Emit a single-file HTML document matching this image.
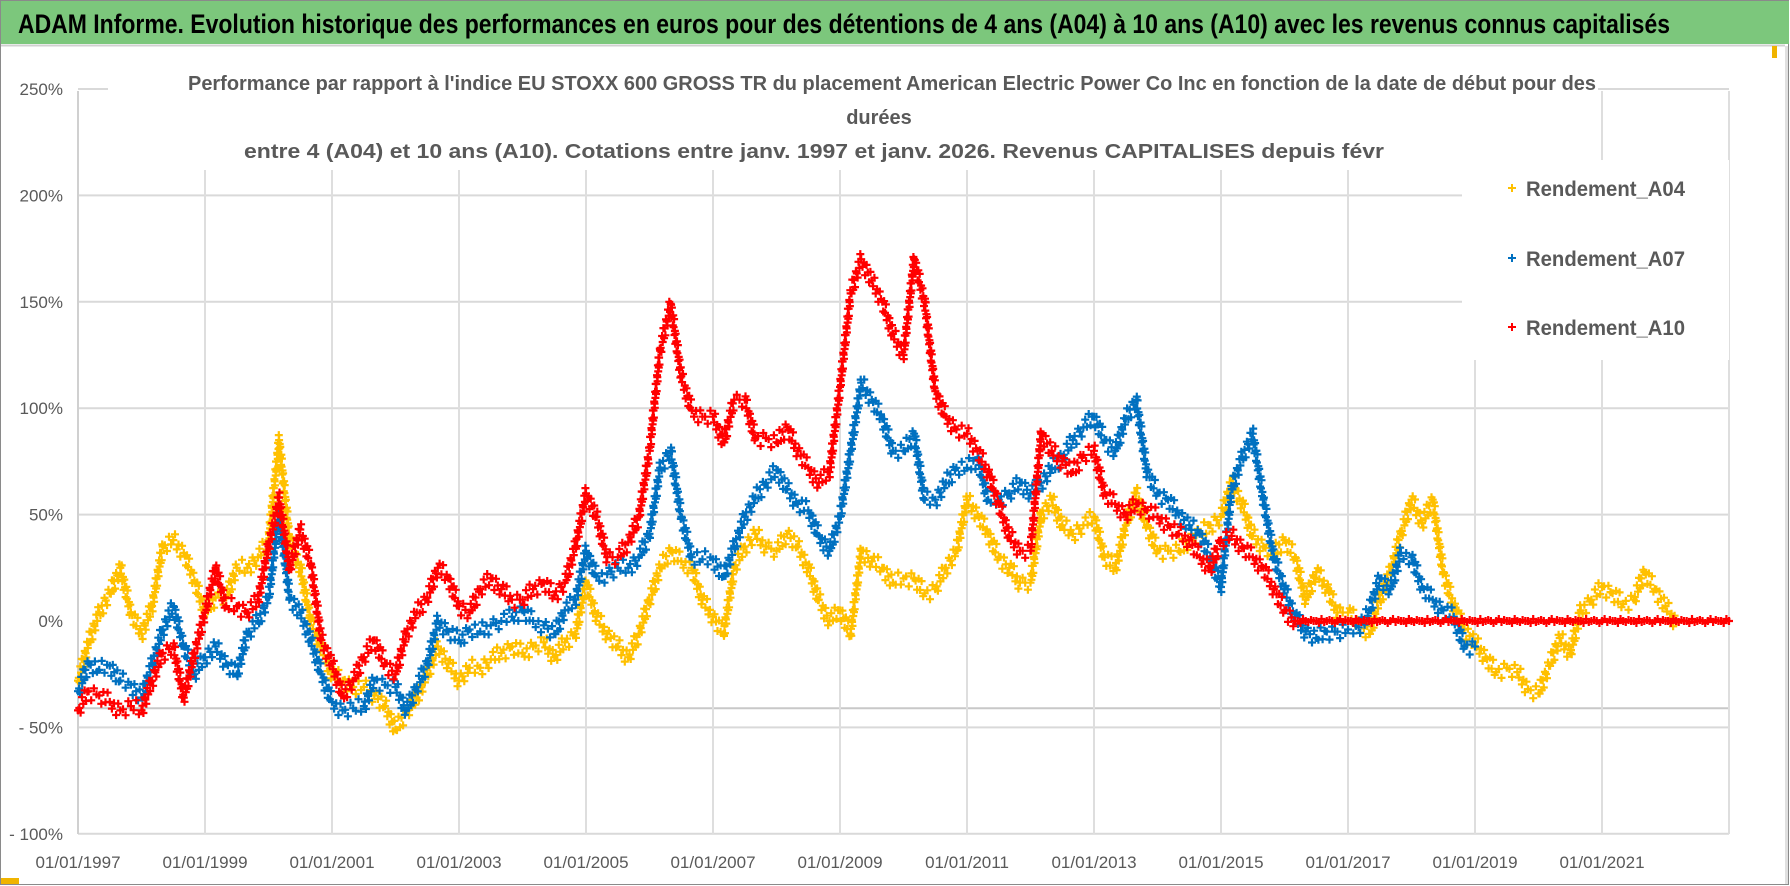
<!DOCTYPE html>
<html><head><meta charset="utf-8"><style>
html,body{margin:0;padding:0;background:#fff;}
svg{display:block;font-family:"Liberation Sans",sans-serif;}
</style></head><body>
<svg id="chart" width="1790" height="886" viewBox="0 0 1790 886" xmlns="http://www.w3.org/2000/svg">
<rect x="0" y="0" width="1790" height="886" fill="#fff"/>
<rect x="0.5" y="0.5" width="1788" height="884" fill="none" stroke="#8a8a8a"/>
<rect x="1" y="1" width="1788" height="43" fill="#7cc77c"/>
<text x="18" y="33" font-size="27" font-weight="bold" fill="#000" textLength="1652" lengthAdjust="spacingAndGlyphs">ADAM Informe. Evolution historique des performances en euros pour des détentions de 4 ans (A04) à 10 ans (A10) avec les revenus connus capitalisés</text>
<line x1="1" y1="45.5" x2="1785" y2="45.5" stroke="#d0d0d0" stroke-width="2"/>
<rect x="1" y="878" width="18" height="6" fill="#f0b400"/>
<rect x="1772" y="46" width="5" height="12" fill="#f0b400"/>
<rect x="1785" y="46" width="3" height="838" fill="#e0e0e0"/>
<g id="grid"></g>
<g id="axes"></g>
<rect x="108" y="60" width="1490" height="110" fill="#fff"/>
<text x="188" y="90" font-size="20" font-weight="bold" fill="#595959" textLength="1408" lengthAdjust="spacingAndGlyphs">Performance par rapport à l'indice EU STOXX 600 GROSS TR  du placement American Electric Power Co Inc en fonction de la date de début pour des</text>
<text x="879" y="124" font-size="20" font-weight="bold" fill="#595959" text-anchor="middle">durées</text>
<text x="244" y="158" font-size="20" font-weight="bold" fill="#595959" textLength="1140" lengthAdjust="spacingAndGlyphs">entre 4 (A04) et 10 ans (A10). Cotations entre janv. 1997 et janv. 2026. Revenus CAPITALISES depuis févr</text>
<g id="series"></g>
<rect x="1462" y="160" width="267" height="200" fill="#fff"/>
<g id="legend"></g>
</svg>
<script>
const startYear = 1997;
const pointsPerYear = 6;
const yTicks = [250, 200, 150, 100, 50, 0, -50, -100];
const yTickLabels = ["250%", "200%", "150%", "100%", "50%", "0%", "- 50%", "- 100%"];
const xTickYears = [1997, 1999, 2001, 2003, 2005, 2007, 2009, 2011, 2013, 2015, 2017, 2019, 2021];
const xTickLabels = ["01/01/1997","01/01/1999","01/01/2001","01/01/2003","01/01/2005","01/01/2007","01/01/2009","01/01/2011","01/01/2013","01/01/2015","01/01/2017","01/01/2019","01/01/2021"];
const seriesNames = ["Rendement_A04", "Rendement_A07", "Rendement_A10"];
const a04 = [
-28,-10,4,13,25,4, -6,7,35,38,32,19, 4,11,11,25,25,30, 38,85,38,25,0,-12,
-25,-28,-31,-31,-35,-40, -51,-43,-36,-25,-12,-20, -28,-22,-22,-18,-15,-12, -15,-12,-10,-17,-10,-6,
18,2,-6,-12,-17,-6, 10,25,33,28,25,10, 2,-6,25,35,41,35, 33,41,35,25,10,0,
5,-6,33,28,25,18, 20,20,13,15,25,33, 57,50,41,30,25,18, 18,50,57,45,41,45,
49,30,25,45,60,45, 33,33,33,38,41,45, 49,65,55,40,35,32, 38,30,10,23,16,4,
4,-1,-6,10,23,41, 57,46,57,23,7,-4, -10,-17,-24,-22,-24,-32, -34,-21,-8,-15,5,10,
16,13,8,10,23,15, 7,-1];
const a07 = [
-33,-20,-23,-21,-28,-30, -36,-20,-4,7,-12,-25, -17,-12,-20,-25,-6,0, 11,51,11,4,-9,-25,
-38,-42,-41,-40,-28,-30, -31,-42,-31,-20,0,-5, -9,-4,-5,-2,0,2, 5,0,-2,-6,5,10,
33,21,22,25,25,30, 41,72,80,49,30,29, 29,21,35,49,58,65, 71,62,55,52,40,33,
49,80,112,104,95,80, 80,88,57,57,65,72, 72,76,57,57,60,65, 60,65,72,77,85,91,
96,85,80,95,104,70, 60,57,50,45,41,30, 16,62,77,88,57,30, 15,2,-5,-8,-5,-5,
-4,-3,5,20,15,32, 30,16,10,5,2,-12, -12];
const a10 = [
-42,-33,-35,-38,-42,-40, -42,-28,-15,-12,-36,-15, 4,25,7,7,4,10, 35,58,25,43,27,-9,
-20,-35,-28,-17,-9,-20, -25,-6,4,11,25,20, 7,4,15,20,15,10, 10,15,18,12,18,35,
60,49,30,30,37,49, 80,127,149,115,99,96, 96,84,104,104,86,86, 84,91,80,72,65,70,
110,154,170,160,150,135, 125,170,150,108,96,90, 88,80,70,55,40,33, 33,88,80,75,70,78,
80,60,55,50,55,52, 49,45,41,38,30,25, 38,40,35,30,25,15, 5,0,0,0,0,0,
0,0,0,0,0,0, 0,0,0,0,0,0, 0,0,0,0,0,0, 0,0,0,0,0,0,
0,0,0,0,0,0, 0,0,0,0,0,0, 0];
const baselineValue = -41;

const NS = "http://www.w3.org/2000/svg";
const plotLeft = 78, plotRight = 1729, plotTop = 91, plotBottom = 834;
function xScale(yr){ return plotLeft + (yr - 1997) * (plotRight - plotLeft) / 26; }
function yScale(v){ return 621 - v * 106.4 / 50; }
function mk(tag, attrs, parent){ const e = document.createElementNS(NS, tag); for (const k in attrs) e.setAttribute(k, attrs[k]); parent.appendChild(e); return e; }

const grid = document.getElementById('grid');
const axes = document.getElementById('axes');
yTicks.forEach((t, i) => {
  if (t !== 0) {
    const l = mk('line', {x1: plotLeft, x2: plotRight, y1: yScale(t), y2: yScale(t), stroke: '#d9d9d9', 'stroke-width': 2}, grid);
    
    
  }
  const tx = mk('text', {x: 63, y: yScale(t) + 6, 'font-size': 17, fill: '#595959', 'text-anchor': 'end'}, axes);
  tx.textContent = yTickLabels[i];
  
  
});
const bl = mk('line', {x1: plotLeft, x2: plotRight, y1: yScale(baselineValue), y2: yScale(baselineValue), stroke: '#c8c8c8', 'stroke-width': 2}, grid);


xTickYears.forEach((yr, i) => {
  const x = xScale(yr);
  const l = mk('line', {x1: x, x2: x, y1: plotTop, y2: plotBottom, stroke: i === 0 ? '#d0d0d0' : '#dedede', 'stroke-width': 2}, grid);
  
  
  const tx = mk('text', {x: x, y: 868, 'font-size': 17, fill: '#595959', 'text-anchor': 'middle'}, axes);
  tx.textContent = xTickLabels[i];
  
  
});
const lastGrid = mk('line', {x1: xScale(2023), x2: xScale(2023), y1: plotTop, y2: plotBottom, stroke: '#dedede', 'stroke-width': 2}, grid);



const seriesG = document.getElementById('series');
const colors = ['#ffc000', '#0070c0', '#ff0000'];
const wobble = [0, 7, -6, 3, -8, 5, -2, 8, -5];
const flatWobble = [0, 2, -2, 1, -1];
function cross(x, y){ return `M${(x-4).toFixed(1)},${y.toFixed(1)}H${(x+4).toFixed(1)}M${x.toFixed(1)},${(y-4).toFixed(1)}V${(y+4).toFixed(1)}`; }
[a04, a07, a10].forEach((arr, s) => {
  const g = mk('g', {stroke: colors[s], 'stroke-width': 2.2}, seriesG);
  
  
  let d = '';
  let n = 0;
  arr.forEach((v, i) => {
    const x0 = xScale(startYear + i / pointsPerYear), y0 = yScale(v);
    d += cross(x0, y0);
    if (i + 1 < arr.length) {
      const x1 = xScale(startYear + (i + 1) / pointsPerYear), y1 = yScale(arr[i + 1]);
      const len = Math.hypot(x1 - x0, y1 - y0);
      const steps = Math.max(2, Math.ceil(len / 3));
      const flat = v === 0 && arr[i + 1] === 0;
      for (let k = 1; k < steps; k++) {
        const t = k / steps;
        const w = flat ? flatWobble[n++ % flatWobble.length] : wobble[n++ % wobble.length];
        d += cross(x0 + (x1 - x0) * t, y0 + (y1 - y0) * t + w);
      }
    }
  });
  const p = mk('path', {d: d, fill: 'none'}, g);
  
  
});

const legend = document.getElementById('legend');
const legendY = [188, 258, 327];
seriesNames.forEach((n, i) => {
  const y = legendY[i];
  const m = mk('path', {d: `M1508,${y}h8M1512,${y-4}v8`, stroke: colors[i], 'stroke-width': 2}, legend);
  
  
  const t = mk('text', {x: 1526, y: y + 8, 'font-size': 21, 'font-weight': 'bold', fill: '#595959', textLength: 159, lengthAdjust: 'spacingAndGlyphs'}, legend);
  t.textContent = n;
  
  
});
</script>
</body></html>
